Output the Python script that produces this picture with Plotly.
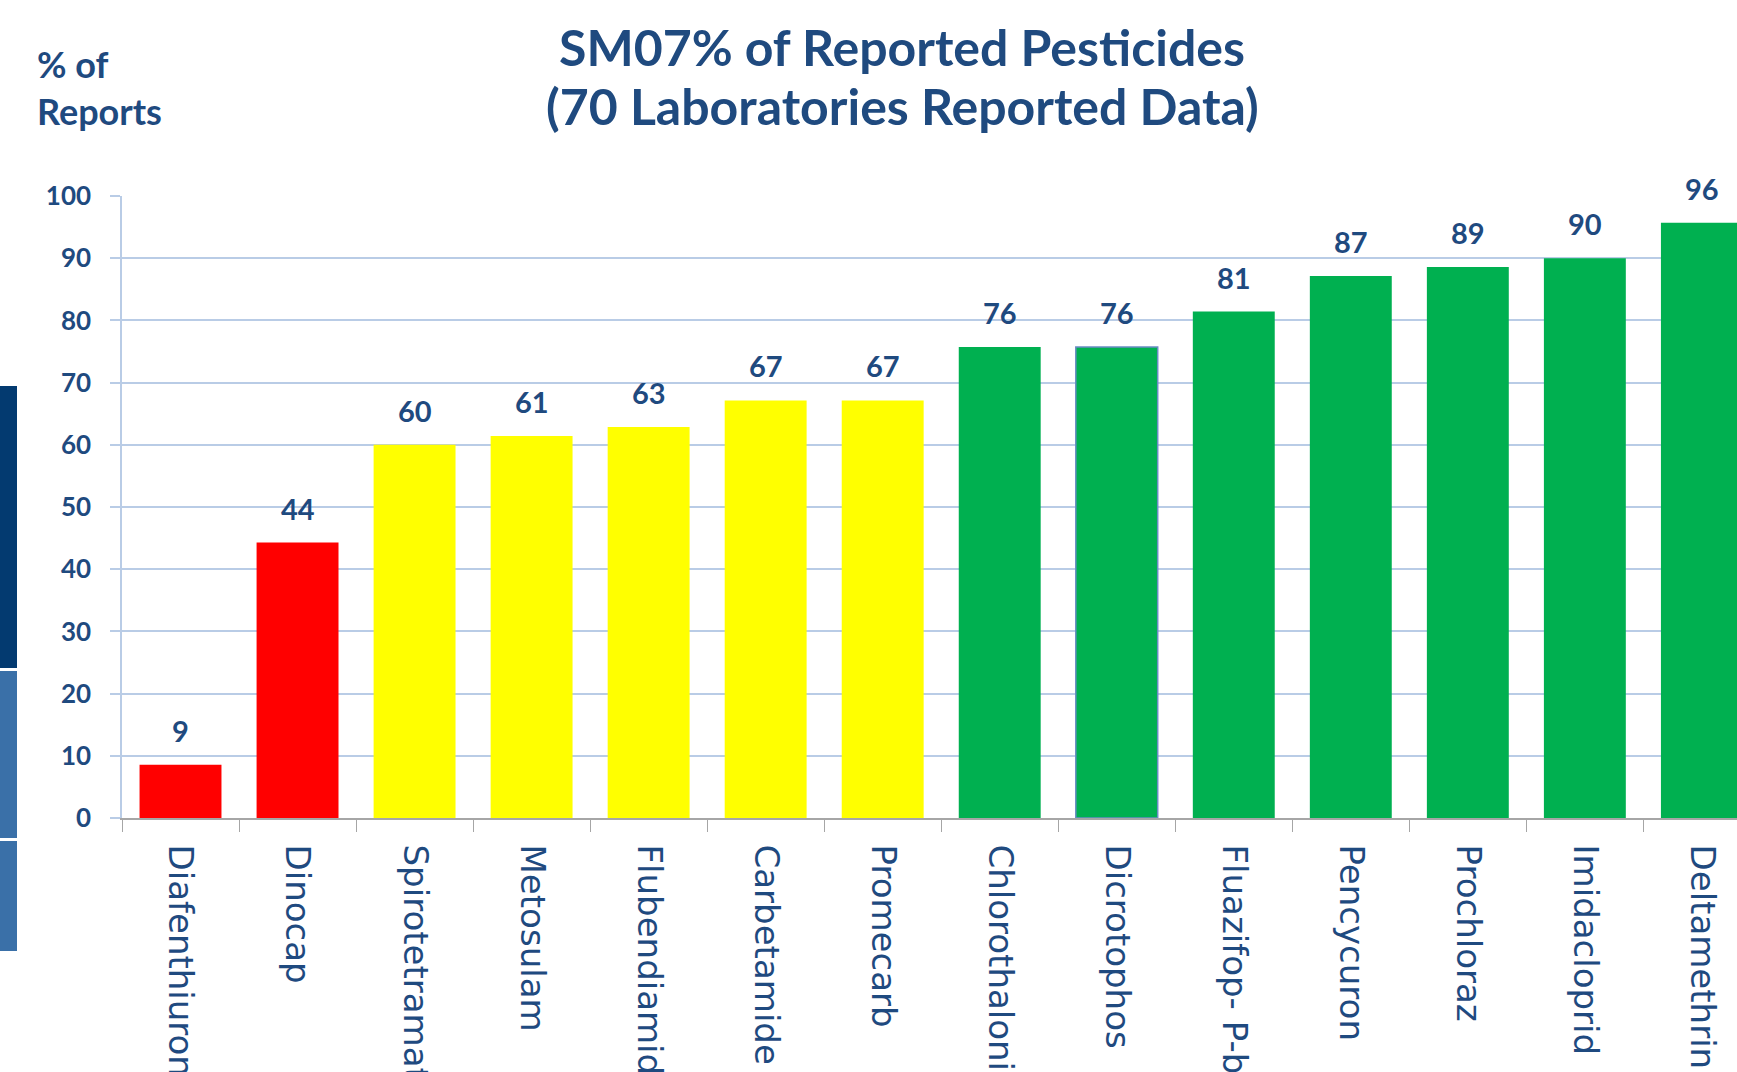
import plotly.graph_objects as go

pesticides = ["Diafenthiuron", "Dinocap", "Spirotetramat", "Metosulam", "Flubendiamide",
              "Carbetamide", "Promecarb", "Chlorothalonil", "Dicrotophos", "Fluazifop- P-butyl",
              "Pencycuron", "Prochloraz", "Imidacloprid", "Deltamethrin"]
percent_reports = [8.57, 44.29, 60.00, 61.43, 62.86, 67.14, 67.14, 75.71, 75.71, 81.43,
                   87.14, 88.57, 90.00, 95.71]
bar_colors = ["#FF0000", "#FF0000", "#FFFF00", "#FFFF00", "#FFFF00", "#FFFF00", "#FFFF00",
              "#00B050", "#00B050", "#00B050", "#00B050", "#00B050", "#00B050", "#00B050"]
outline_colors = ["rgba(0,0,0,0)"] * 8 + ["#6A8CC4"] + ["rgba(0,0,0,0)"] * 5
y_ticks = [0, 10, 20, 30, 40, 50, 60, 70, 80, 90, 100]
title_line1 = "SM07% of Reported Pesticides"
title_line2 = "(70 Laboratories Reported Data)"

TXT = "#1F4A7F"
GRID = "#B9CCE6"

fig = go.Figure()
fig.add_trace(go.Bar(
    x=pesticides, y=percent_reports,
    marker=dict(color=bar_colors, line=dict(color=outline_colors, width=1.5)),
    hoverinfo="x+y",
))

for name, val in zip(pesticides, percent_reports):
    fig.add_annotation(x=name, y=val, xref="x", yref="y", text=f"{round(val)}",
                       showarrow=False, yanchor="bottom", yshift=15,
                       font=dict(family="Lato", size=29, color=TXT, weight="bold"))

fig.add_annotation(xref="paper", yref="paper", x=0, y=1.0, xanchor="left", xshift=-87,
                   yanchor="middle", yshift=109,
                   text="% of<br>Reports", showarrow=False,
                   font=dict(family="Lato", size=36, color=TXT, weight="bold"),
                   align="left")

# second title line
fig.add_annotation(xref="paper", yref="paper", x=0, y=1.0, xanchor="center",
                   xshift=902 - 122, yanchor="middle", yshift=196 - 106,
                   text=title_line2, showarrow=False,
                   font=dict(family="Lato", size=50, color=TXT, weight="bold"))

strips = [(150, 432, "#033A70"), (-20, 147, "#3A70A8"), (-133, -23, "#3A70A8")]
for y0, y1, col in strips:
    fig.add_shape(type="rect", xref="paper", yref="paper", xsizemode="pixel", ysizemode="pixel",
                  xanchor=0, yanchor=0, x0=-122, x1=-105, y0=y0, y1=y1,
                  fillcolor=col, line=dict(width=0), layer="above")

fig.update_layout(
    width=1737, height=1072,
    margin=dict(l=122, r=0, t=196, b=254, autoexpand=False),
    paper_bgcolor="white", plot_bgcolor="white",
    bargap=0.30, showlegend=False,
    title=dict(text=title_line1,
               x=902 / 1737, xanchor="center", xref="container",
               y=1 - 48 / 1072, yanchor="middle", yref="container",
               font=dict(family="Lato", size=50, color=TXT, weight="bold")),
    xaxis=dict(range=[-0.5, 13.3], tickangle=90, tickson="boundaries", ticks="outside",
               ticklen=12, tickcolor="#A6A6A6", showline=True, linecolor="#A6A6A6",
               linewidth=1.5, showgrid=False, automargin=False, ticklabelstandoff=18,
               tickfont=dict(family="DejaVu Sans", size=34, color=TXT)),
    yaxis=dict(range=[0, 100], tickvals=y_ticks, showgrid=True, gridcolor=GRID, gridwidth=1.5,
               showline=True, linecolor=GRID, linewidth=1.5, ticks="outside", ticklen=10,
               tickcolor=GRID, tickwidth=1.5, zeroline=False, automargin=False,
               ticklabelstandoff=14,
               tickfont=dict(family="Lato", size=26, color=TXT, weight="bold")),
)

fig.write_html("out.html", config={"displayModeBar": False},
               post_script="document.body.style.margin='0';document.body.style.overflow='hidden';")
